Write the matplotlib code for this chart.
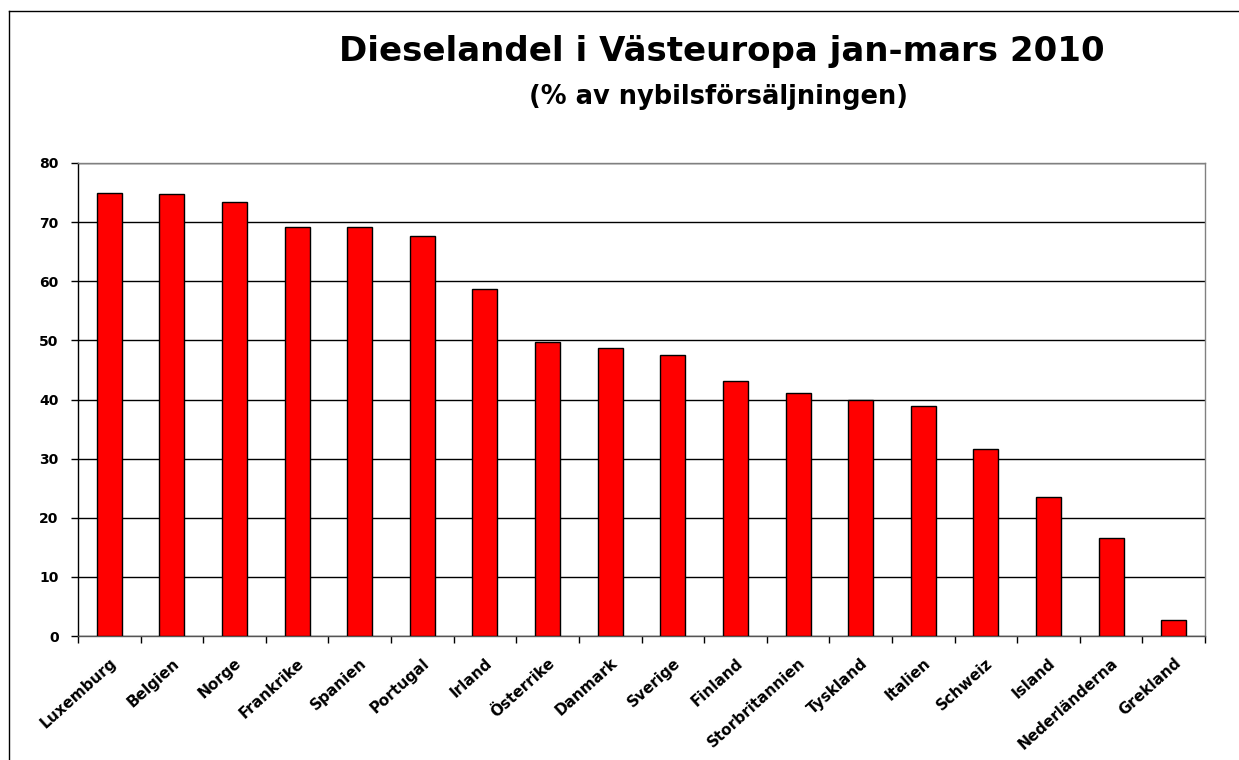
import matplotlib
matplotlib.use("Agg")
import matplotlib.pyplot as plt
from matplotlib.lines import Line2D
import numpy as np

countries = ["Luxemburg", "Belgien", "Norge", "Frankrike", "Spanien", "Portugal",
             "Irland", "Österrike", "Danmark", "Sverige", "Finland", "Storbritannien",
             "Tyskland", "Italien", "Schweiz", "Island", "Nederländerna", "Grekland"]
values = [74.9, 74.8, 73.4, 69.1, 69.1, 67.6, 58.7, 49.8, 48.7, 47.6, 43.2, 41.1,
          39.9, 38.9, 31.6, 23.5, 16.6, 2.7]
yticks = [0, 10, 20, 30, 40, 50, 60, 70, 80]

plt.rcParams['font.family'] = ['DejaVu Sans']

fig = plt.figure(figsize=(12.39, 7.6), dpi=100)
ax = fig.add_axes([78/1239, 124/760, (1205-78)/1239, (636-163)/760])

x = np.arange(len(countries))
ax.bar(x, values, width=0.4, color='#ff0000', edgecolor='black', linewidth=1, zorder=3)

ax.set_xlim(-0.5, len(countries) - 0.5)
ax.set_ylim(0, 80)
ax.set_yticks(yticks)
ax.set_yticklabels([str(v) for v in yticks], fontsize=10, fontweight='bold')
ax.yaxis.grid(True, color='black', linewidth=1, zorder=0)
ax.tick_params(axis='y', direction='out', length=5, width=1, pad=9)

ax.set_xticks(x)
ax.set_xticklabels(countries, rotation=42, ha='right', rotation_mode='anchor',
                   fontsize=11, fontweight='bold')
ax.tick_params(axis='x', which='major', length=0, pad=14)
ax.set_xticks(np.arange(-0.5, len(countries)), minor=True)
ax.tick_params(axis='x', which='minor', direction='out', length=5, width=1)

ax.spines['left'].set_color('black')
ax.spines['bottom'].set_color('#555555')
ax.spines['top'].set_color('#808080')
ax.spines['right'].set_color('#808080')
for s in ax.spines.values():
    s.set_linewidth(1)

fig.text(722/1239, 1 - 52/760, "Dieselandel i Västeuropa jan-mars 2010",
         ha='center', va='center', fontsize=24.5, fontweight='bold')
fig.text(719/1239, 1 - 97/760, "(% av nybilsförsäljningen)",
         ha='center', va='center', fontsize=18.5, fontweight='bold')

fig.add_artist(Line2D([9/1239, 9/1239], [0, 1 - 11/760], transform=fig.transFigure,
                      color='black', linewidth=1))
fig.add_artist(Line2D([9/1239, 1], [1 - 11/760, 1 - 11/760], transform=fig.transFigure,
                      color='black', linewidth=1))

fig.savefig("out.png", dpi=100)
